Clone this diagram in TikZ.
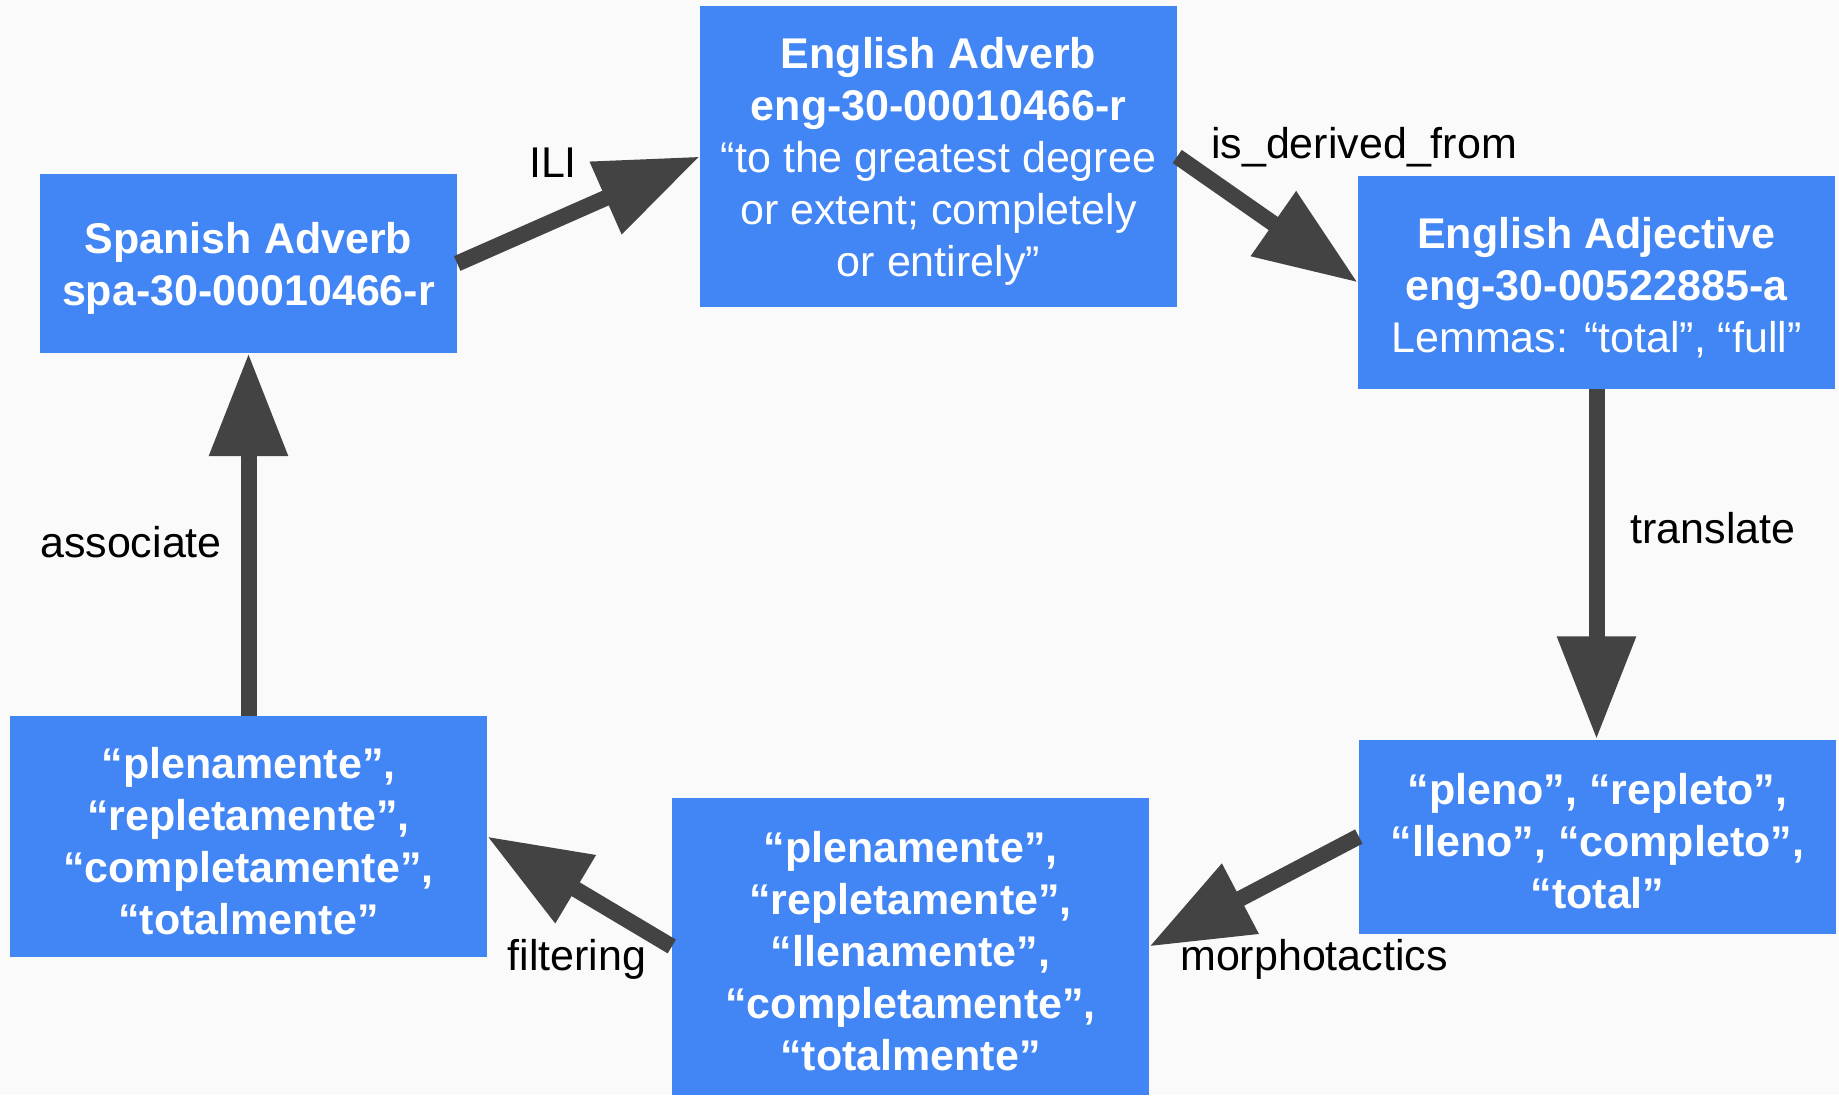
\documentclass[tikz,border=0pt]{standalone}
\usepackage{fontspec}
\setmainfont{Liberation Sans}
\usetikzlibrary{arrows.meta}
\definecolor{boxblue}{HTML}{4285F4}
\definecolor{arrowgray}{HTML}{434343}
\definecolor{paper}{HTML}{FAFAFA}
\newcommand{\boxtop}{\rule{0pt}{41pt}}

\begin{document}
\begin{tikzpicture}[x = 1pt, y = -1pt,
		box/.style = {fill = boxblue, text = white, align = center, inner sep = 0pt, minimum width = 477pt, font = \fontsize{43}{52}\selectfont},
		link/.style = {draw = arrowgray, line width = 16pt, -{Triangle[length = 103pt, width = 75pt]}},
		lbl/.style = {anchor = base, inner sep = 0pt, font = \fontsize{43}{52}\selectfont}]
			\def\W{1839};
			\def\H{1095};

			\begin{scope}
				\fill [paper] (0,0) rectangle (\W,\H);
			\end{scope}

			\begin{scope}
				\node [box, minimum width = 417pt, minimum height = 179pt] (spaAdv) at (248.5,263.5) {\boxtop\textbf{Spanish Adverb}\\\textbf{spa-30-00010466-r}};
				\node [box, minimum height = 301pt] (engAdv) at (938.5,156.5) {\boxtop\textbf{English Adverb}\\\textbf{eng-30-00010466-r}\\“to the greatest degree\\or extent; completely\\or entirely”};
				\node [box, minimum height = 213pt] (engAdj) at (1596.5,282.5) {\boxtop\textbf{English Adjective}\\\textbf{eng-30-00522885-a}\\Lemmas: “total”, “full”};
				\node [box, minimum height = 194pt] (spaAdj) at (1597.5,836.5) {\boxtop\textbf{“pleno”, “repleto”,}\\\textbf{“lleno”, “completo”,}\\\textbf{“total”}};
				\node [box, minimum height = 297pt] (candList) at (910.5,946.5) {\boxtop\textbf{“plenamente”,}\\\textbf{“repletamente”,}\\\textbf{“llenamente”,}\\\textbf{“completamente”,}\\\textbf{“totalmente”}};
				\node [box, minimum height = 241pt] (keptList) at (248.5,836.5) {\boxtop\textbf{“plenamente”,}\\\textbf{“repletamente”,}\\\textbf{“completamente”,}\\\textbf{“totalmente”}};
			\end{scope}

			\begin{scope}
				\draw [link] (spaAdv.east) -- (engAdv.west);
				\draw [link] (engAdv.east) -- (engAdj.west);
				\draw [link] (engAdj.south) -- (engAdj.south |- spaAdj.north);
				\draw [link] (spaAdj.west) -- (candList.east);
				\draw [link] (candList.west) -- (keptList.east);
				\draw [link] (keptList.north) -- (spaAdv.south);
			\end{scope}

			\begin{scope}
				\node [lbl] (lblIli) at (553,177) {ILI};
				\node [lbl] (lblDerived) at (1364,158) {is\_derived\_from};
				\node [lbl] (lblTranslate) at (1713,543) {translate};
				\node [lbl] (lblMorph) at (1314,970) {morphotactics};
				\node [lbl] (lblFilter) at (577,970) {filtering};
				\node [lbl] (lblAssoc) at (131,557) {associate};
			\end{scope}
		\end{tikzpicture}
\end{document}
